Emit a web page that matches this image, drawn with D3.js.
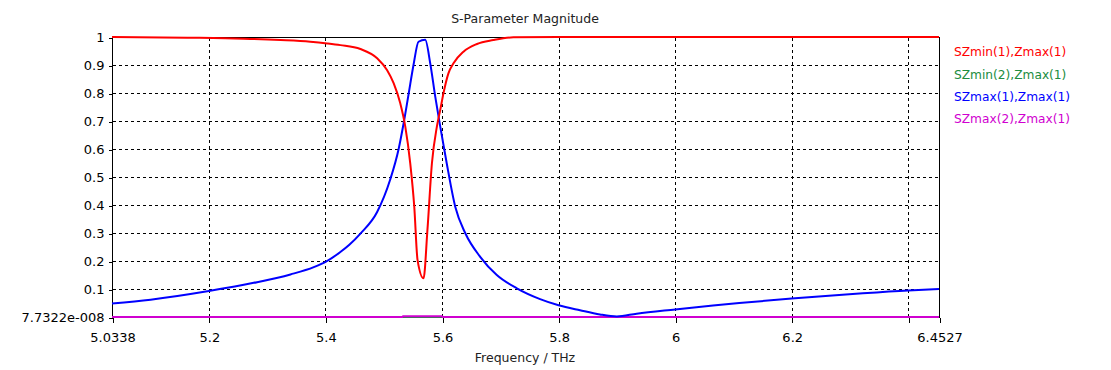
<!DOCTYPE html>
<html>
<head>
<meta charset="utf-8">
<script src="https://d3js.org/d3.v7.min.js"></script>
<style>
body{margin:0;background:#fff;}
text{font-family:"DejaVu Sans",Verdana,sans-serif;}
</style>
</head>
<body>
<div id="chart"></div>
<script>
var w=1111;
var h=370;

// frequency (THz) and magnitude
var blueF=[5.0338,5.1,5.2,5.277,5.34,5.38,5.401,5.4256,5.441,5.46,5.4887,5.511,5.5256,5.534,5.5426,5.5511,5.5597,5.5712,5.5798,5.5884,5.597,5.608,5.6227,5.64,5.6655,5.694,5.7284,5.7683,5.8,5.8368,5.871,5.9,5.934,6.0,6.065,6.11,6.2,6.322,6.4,6.4527];
var blueV=[0.048,0.062,0.093,0.122,0.152,0.178,0.198,0.232,0.258,0.298,0.375,0.49,0.6,0.69,0.795,0.9,0.983,0.99,0.906,0.787,0.68,0.55,0.394,0.299,0.215,0.15,0.1025,0.064,0.042,0.024,0.009,0.002,0.012,0.027,0.041,0.05,0.066,0.085,0.095,0.1];

var redF=[5.0338,5.163,5.26,5.323,5.374,5.403,5.4256,5.46,5.4887,5.5056,5.517,5.5284,5.537,5.5455,5.5524,5.558,5.5683,5.575,5.5827,5.5912,5.597,5.6026,5.611,5.6197,5.6368,5.66,5.688,5.7225,5.8,6.4527];
var redV=[1.0,0.9975,0.994,0.989,0.983,0.977,0.971,0.957,0.924,0.882,0.835,0.763,0.68,0.549,0.394,0.204,0.138,0.311,0.549,0.68,0.74,0.8,0.87,0.906,0.9475,0.975,0.989,0.999,1.0,1.0];

var greenF=[5.0338,6.4527];
var greenV=[0,0];

var magF=[5.0338,5.532,5.533,5.6,5.601,6.4527];
var magV=[0,0,0.003,0.003,0,0];

var xTicks=[5.0338,5.2,5.4,5.6,5.8,6,6.2,6.4,6.4527];
var xTickLabels=["5.0338","5.2","5.4","5.6","5.8","6","6.2","","6.4527"];
var yTicks=[0,0.1,0.2,0.3,0.4,0.5,0.6,0.7,0.8,0.9,1];
var yTickLabels=["7.7322e-008","0.1","0.2","0.3","0.4","0.5","0.6","0.7","0.8","0.9","1"];

var legendNames=["SZmin(1),Zmax(1)","SZmin(2),Zmax(1)","SZmax(1),Zmax(1)","SZmax(2),Zmax(1)"];
var colors=["#ff0000","#208c40","#0000ff","#d000d0"];

var svg=d3.select("#chart").append("svg")
          .attr("width",w)
          .attr("height",h);

var x=d3.scaleLinear().domain([5.0338,6.4527]).range([112,939]);
var y=d3.scaleLinear().domain([0,1]).range([317,37]);

function px(v){return Math.round(x(v))+0.5;}
function py(v){return Math.round(y(v))+0.5;}

// grid
var grid=svg.append("g").attr("shape-rendering","crispEdges");
grid.selectAll("line.gx")
    .data(xTicks.slice(1,-1))
    .enter().append("line")
    .attr("x1",px).attr("x2",px)
    .attr("y1",py(1)).attr("y2",py(0))
    .attr("stroke","#000").attr("stroke-dasharray","3,3");
grid.selectAll("line.gy")
    .data(yTicks.slice(1,-1))
    .enter().append("line")
    .attr("x1",px(5.0338)).attr("x2",px(6.4527))
    .attr("y1",py).attr("y2",py)
    .attr("stroke","#000").attr("stroke-dasharray","3,3");

// frame
svg.append("rect")
   .attr("x",px(5.0338)).attr("y",py(1))
   .attr("width",px(6.4527)-px(5.0338))
   .attr("height",py(0)-py(1))
   .attr("fill","none").attr("stroke","#000")
   .attr("shape-rendering","crispEdges");

// ticks and labels
var yAxis=d3.axisLeft(y).tickValues(yTicks)
            .tickFormat(function(d,i){return yTickLabels[i];})
            .tickSize(4).tickPadding(4);
var gy=svg.append("g").attr("transform","translate("+px(5.0338)+",0.5)").call(yAxis);
gy.select(".domain").remove();
gy.selectAll("text").attr("font-size","13px").attr("fill","#000").style("font-family","DejaVu Sans");

var xAxis=d3.axisBottom(x).tickValues(xTicks)
            .tickFormat(function(d,i){return xTickLabels[i];})
            .tickSize(5).tickPadding(10);
var gx=svg.append("g").attr("transform","translate(0.5,"+py(0)+")").call(xAxis);
gx.select(".domain").remove();
gx.selectAll("text").attr("font-size","13px").attr("fill","#000").style("font-family","DejaVu Sans");
svg.selectAll(".tick line").attr("shape-rendering","crispEdges");

// curves
var line=d3.line()
           .curve(d3.curveMonotoneX)
           .x(function(d){return x(d[0]);})
           .y(function(d){return y(d[1]);});

function pairs(f,v){return f.map(function(d,i){return [d,v[i]];});}

var series=[pairs(redF,redV),pairs(greenF,greenV),pairs(blueF,blueV),pairs(magF,magV)];
var order=[1,3,2,0];
svg.append("g").selectAll("path")
   .data(order)
   .enter().append("path")
   .attr("d",function(k){return line(series[k]);})
   .attr("fill","none")
   .attr("stroke",function(k){return colors[k];})
   .attr("stroke-width",2);

// titles
svg.append("text")
   .attr("x",525).attr("y",23)
   .attr("text-anchor","middle")
   .attr("font-size","12.5px")
   .attr("fill","#222")
   .text("S-Parameter Magnitude");

svg.append("text")
   .attr("x",525).attr("y",362)
   .attr("text-anchor","middle")
   .attr("font-size","12.5px")
   .attr("fill","#222")
   .text("Frequency / THz");

// legend
svg.append("g").selectAll("text")
   .data(legendNames)
   .enter().append("text")
   .attr("x",954)
   .attr("y",function(d,i){return 52+i*22.3;})
   .attr("dy","0.35em")
   .attr("font-size","12.2px")
   .attr("fill",function(d,i){return colors[i];})
   .text(function(d){return d;});
</script>
</body>
</html>
